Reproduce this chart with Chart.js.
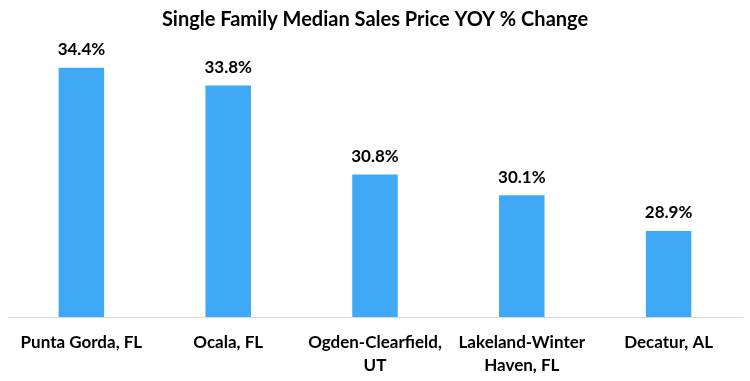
<!DOCTYPE html>
<html>
<head>
<meta charset="utf-8">
<script src="https://cdn.jsdelivr.net/npm/chart.js@4"></script>
<style>
html,body{margin:0;padding:0;background:#fff;}
#wrap{width:750px;height:381px;position:relative;}
</style>
</head>
<body>
<div id="wrap"><canvas id="c" width="750" height="381"></canvas></div>
<script>
const categories = [
  "Punta Gorda, FL",
  "Ocala, FL",
  ["Ogden-Clearfield,", "UT"],
  ["Lakeland-Winter", "Haven, FL"],
  "Decatur, AL"
];
const values = [34.4, 33.8, 30.8, 30.1, 28.9];
const valueLabels = ["34.4%", "33.8%", "30.8%", "30.1%", "28.9%"];
const titleText = "Single Family Median Sales Price YOY % Change";

const FONT = "Lato, 'Liberation Sans', sans-serif";

const labelPlugin = {
  id: 'valueLabels',
  afterDatasetsDraw(chart) {
    const ctx = chart.ctx;
    const meta = chart.getDatasetMeta(0);
    ctx.save();
    ctx.font = "bold 17px " + FONT;
    ctx.fillStyle = "#000";
    ctx.textAlign = "center";
    ctx.textBaseline = "middle";
    meta.data.forEach((bar, i) => {
      ctx.fillText(valueLabels[i], bar.x, bar.y - 18);
    });
    ctx.restore();
  }
};

new Chart(document.getElementById('c'), {
  type: 'bar',
  data: {
    labels: categories,
    datasets: [{
      data: values,
      backgroundColor: '#3FA9F8',
      borderWidth: 0,
      categoryPercentage: 1.0,
      barPercentage: 0.31
    }]
  },
  options: {
    responsive: false,
    animation: false,
    devicePixelRatio: 1,
    layout: { padding: { left: 8, right: 8, top: 8, bottom: 0 } },
    plugins: {
      legend: { display: false },
      tooltip: { enabled: false },
      title: {
        display: true,
        text: titleText,
        color: '#000',
        font: { family: FONT, size: 20, weight: 'bold', lineHeight: 1.2 },
        padding: { top: 0, bottom: 18 }
      }
    },
    scales: {
      x: {
        grid: { display: false, drawTicks: false },
        border: { display: true, color: '#d9d9d9', width: 1 },
        ticks: {
          color: '#000',
          padding: 14,
          maxRotation: 0,
          autoSkip: false,
          font: { family: FONT, size: 17, weight: 'bold', lineHeight: 1.35 }
        },
        afterFit(s) { s.height = 64; }
      },
      y: {
        display: false,
        min: 26,
        max: 35
      }
    }
  },
  plugins: [labelPlugin]
});
</script>
</body>
</html>
